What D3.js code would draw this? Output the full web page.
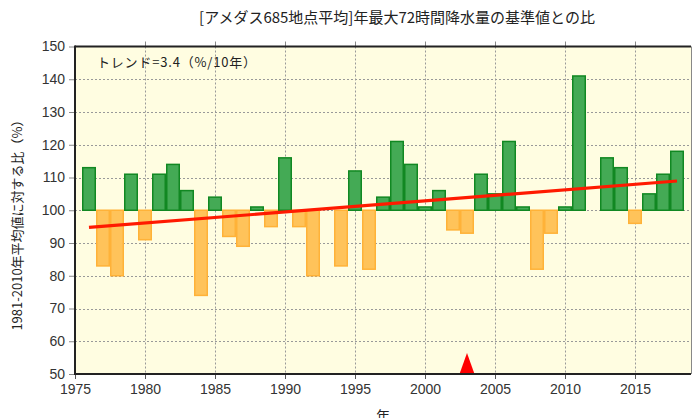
<!DOCTYPE html>
<html>
<head>
<meta charset="utf-8">
<script src="https://cdn.jsdelivr.net/npm/d3@7"></script>
<style>
  html, body { margin: 0; padding: 0; background: #ffffff; }
  svg { display: block; }
  .tick text { font-family: "Liberation Sans", Arial, sans-serif; font-size: 14px; fill: #333; }
</style>
</head>
<body>
<svg id="chart" width="692" height="418"></svg>
<script>
// Annual maximum 72-hour precipitation, ratio to the 1981-2010 normal (%)
const years = d3.range(1976, 2019);
const ratios = [
  113, 83, 80, 111, 91, 111, 114, 106, 74, 104,
  92, 89, 101, 95, 116, 95, 80, 100, 83, 112,
  82, 104, 121, 114, 101, 106, 94, 93, 111, 105,
  121, 101, 82, 93, 101, 141, 100, 116, 113, 96,
  105, 111, 118
];
const xTicks = [1975, 1980, 1985, 1990, 1995, 2000, 2005, 2010, 2015];
const yTicks = [50, 60, 70, 80, 90, 100, 110, 120, 130, 140, 150];
const markerYears = [2003];       // station-change marker
const trendPerDecade = 3.4;
const baseline = 100;

const svg = d3.select("#chart");
const pLeft = 75, pRight = 691, pTop = 46.5, pBottom = 374;

const x = d3.scaleLinear().domain([1975, 2019]).range([pLeft, pRight]);
const y = d3.scaleLinear().domain([50, 150]).range([pBottom, pTop]);

// plot background
svg.append("rect")
  .attr("x", pLeft).attr("y", pTop)
  .attr("width", pRight - pLeft).attr("height", pBottom - pTop)
  .attr("fill", "#fffde1");

// dotted grid
const grid = svg.append("g").attr("stroke", "#999").attr("stroke-width", 1)
  .attr("stroke-dasharray", "2,2");
grid.selectAll("line.v").data(xTicks.slice(1)).join("line")
  .attr("x1", d => Math.round(x(d)) + 0.5).attr("x2", d => Math.round(x(d)) + 0.5)
  .attr("y1", pTop).attr("y2", pBottom);
grid.selectAll("line.h").data(yTicks.slice(1, -1)).join("line")
  .attr("x1", pLeft).attr("x2", pRight)
  .attr("y1", d => Math.round(y(d)) + 0.5).attr("y2", d => Math.round(y(d)) + 0.5);

// bars from the 100% baseline
const data = years.map((yr, i) => ({ year: yr, v: ratios[i] }));
svg.append("g").selectAll("rect").data(data).join("rect")
  .attr("x", d => x(d.year - 0.5) + 0.75)
  .attr("width", d => x(d.year + 0.5) - x(d.year - 0.5) - 1.5)
  .attr("y", d => y(Math.max(d.v, baseline)))
  .attr("height", d => Math.abs(y(d.v) - y(baseline)))
  .attr("fill", d => d.v > baseline ? "#44aa55" : "#ffc35a")
  .attr("stroke", d => d.v > baseline ? "#118822" : "#ffb238")
  .attr("stroke-width", 1.5);

// least-squares trend line
const mx = d3.mean(years), my = d3.mean(ratios);
const slope = d3.sum(years, (yr, i) => (yr - mx) * (ratios[i] - my)) /
              d3.sum(years, yr => (yr - mx) * (yr - mx));
const trend = yr => my + slope * (yr - mx);
svg.append("line")
  .attr("x1", x(years[0])).attr("y1", y(trend(years[0])))
  .attr("x2", x(years[years.length - 1])).attr("y2", y(trend(years[years.length - 1])))
  .attr("stroke", "#ff1a00").attr("stroke-width", 3.2).attr("stroke-linecap", "butt");

// marker triangles on the bottom axis
svg.append("g").selectAll("path").data(markerYears).join("path")
  .attr("d", d => `M${x(d)},${pBottom - 21} L${x(d) - 7.5},${pBottom} L${x(d) + 7.5},${pBottom} Z`)
  .attr("fill", "#ff0000");

// axes
const xAxis = d3.axisBottom(x).tickValues(xTicks).tickFormat(d3.format("d"))
  .tickSize(5).tickPadding(5);
const gx = svg.append("g").attr("transform", `translate(0,${pBottom})`).call(xAxis);
gx.select(".domain").remove();
gx.selectAll(".tick line").attr("stroke", "#555");

const xTop = d3.axisTop(x).tickValues(xTicks.slice(1)).tickFormat("").tickSize(5);
const gxt = svg.append("g").attr("transform", `translate(0,${pTop})`).call(xTop);
gxt.select(".domain").remove();
gxt.selectAll(".tick line").attr("stroke", "#888");

const yAxis = d3.axisLeft(y).tickValues(yTicks).tickSize(6).tickPadding(4);
const gy = svg.append("g").attr("transform", `translate(${pLeft},0)`).call(yAxis);
gy.select(".domain").remove();
gy.selectAll(".tick line").attr("stroke", "#888");

// frame
svg.append("line").attr("x1", pLeft).attr("x2", pRight).attr("y1", pTop).attr("y2", pTop)
  .attr("stroke", "#222").attr("stroke-width", 2);
svg.append("line").attr("x1", pLeft).attr("x2", pRight).attr("y1", pBottom).attr("y2", pBottom)
  .attr("stroke", "#222").attr("stroke-width", 2);
svg.append("line").attr("x1", pLeft).attr("x2", pLeft).attr("y1", pTop - 1).attr("y2", pBottom + 1)
  .attr("stroke", "#222").attr("stroke-width", 2);
svg.append("line").attr("x1", pRight + 0.5).attr("x2", pRight + 0.5).attr("y1", pTop).attr("y2", pBottom)
  .attr("stroke", "#888").attr("stroke-width", 1);

// texts
const cjk = '"Noto Sans CJK JP", sans-serif';
svg.append("text")
  .attr("x", 397).attr("y", 23)
  .attr("text-anchor", "middle")
  .attr("font-family", cjk).attr("font-size", 15).attr("fill", "#222")
  .text("[アメダス685地点平均]年最大72時間降水量の基準値との比");

svg.append("text")
  .attr("x", 97).attr("y", 67)
  .attr("font-family", cjk).attr("font-size", 13).attr("fill", "#222")
  .attr("letter-spacing", "0.8px")
  .text(`トレンド=${trendPerDecade.toFixed(1)}（%/10年）`);

svg.append("text")
  .attr("transform", "translate(22,222) rotate(-90)")
  .attr("text-anchor", "middle")
  .attr("font-family", cjk).attr("font-size", 13).attr("fill", "#222")
  .text("1981-2010年平均値に対する比（%）");

svg.append("text")
  .attr("x", 383).attr("y", 421)
  .attr("text-anchor", "middle")
  .attr("font-family", cjk).attr("font-size", 14).attr("fill", "#222")
  .text("年");
</script>
</body>
</html>
